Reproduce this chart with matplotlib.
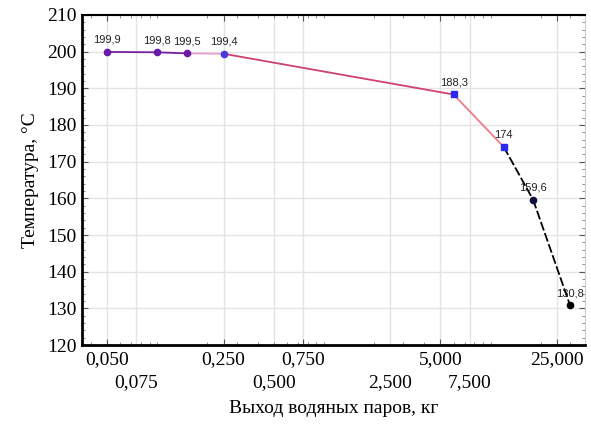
#!/usr/bin/env python3
"""vapour_temperature.py"""

import matplotlib

matplotlib.use("Agg")
import matplotlib.pyplot as plt
from matplotlib.ticker import FixedLocator, LogLocator, MultipleLocator, NullFormatter

# data
vapour_kg = [0.05, 0.1, 0.15, 0.25, 6, 12, 18, 30]
temperature = [199.9, 199.8, 199.5, 199.4, 188.3, 174.0, 159.6, 130.8]
point_labels = ["199,9", "199,8", "199,5", "199,4", "188,3", "174", "159,6", "130,8"]

# x tick labels sit in two staggered rows
upper_ticks = [0.05, 0.25, 0.75, 5, 25]
upper_labels = ["0,050", "0,250", "0,750", "5,000", "25,000"]
lower_ticks = [0.075, 0.5, 2.5, 7.5]
lower_labels = ["0,075", "0,500", "2,500", "7,500"]

seg_colors = ["#7a1fa0", "#7a1fa0", "#e6a0cc", "#d04070", "#f07a86", "black", "black"]
seg_styles = ["-", "-", "-", "-", "-", (0, (5, 1.5)), (0, (5, 1.5))]
marker_colors = ["#6a1aa8", "#6a1aa8", "#6a1aa8", "#4a3ad8", "#2a2af0",
                 "#2a2af0", "#101040", "black"]
marker_shapes = ["o", "o", "o", "o", "s", "s", "o", "o"]

SERIF = "Liberation Serif"


def plot(ax):
    for i in range(len(vapour_kg) - 1):
        ax.plot(vapour_kg[i:i + 2], temperature[i:i + 2], color=seg_colors[i],
                linestyle=seg_styles[i], linewidth=1.3, zorder=2)

    for x, y, c, m, lab in zip(vapour_kg, temperature, marker_colors,
                               marker_shapes, point_labels):
        ax.plot(x, y, marker=m, color=c, markersize=4.5, linestyle="none", zorder=3)
        ax.annotate(lab, (x, y), xytext=(0, 5), textcoords="offset points",
                    ha="center", va="bottom", fontsize=8,
                    family="Liberation Sans", color="#222222")

    ax.set_xscale("log")
    ax.set_xlim(0.0354, 36.9)
    ax.set_ylim(120, 210)

    ax.xaxis.set_major_locator(FixedLocator(upper_ticks))
    ax.set_xticklabels(upper_labels)
    ax.xaxis.set_minor_locator(LogLocator(base=10, subs=range(1, 10)))
    ax.xaxis.set_minor_formatter(NullFormatter())
    ax.yaxis.set_major_locator(MultipleLocator(10))
    ax.yaxis.set_minor_locator(MultipleLocator(2))

    ax.tick_params(which="both", direction="in", top=True, right=True,
                   labelsize=14, pad=4)
    ax.tick_params(which="major", length=4, width=0.8, color="#555555")
    ax.tick_params(which="minor", length=2, width=0.6, color="#777777")
    for lab in ax.get_xticklabels() + ax.get_yticklabels():
        lab.set_family(SERIF)

    # second row of x labels
    sec = ax.secondary_xaxis("bottom")
    sec.set_xticks(lower_ticks)
    sec.set_xticklabels(lower_labels)
    sec.tick_params(length=0, labelsize=14, pad=21)
    sec.xaxis.set_minor_locator(FixedLocator([]))
    sec.spines["bottom"].set_visible(False)
    for lab in sec.get_xticklabels():
        lab.set_family(SERIF)
    sec.set_xlabel("Выход водяных паров, кг", family=SERIF, fontsize=14, labelpad=6)

    # vertical grid at every labelled value
    for v in upper_ticks + lower_ticks:
        ax.axvline(v, color="#e4e4e4", linewidth=1.0, zorder=0)
    ax.grid(True, axis="y", which="major", color="#e4e4e4", linewidth=1.0)
    ax.set_axisbelow(True)

    for side in ["left", "bottom"]:
        ax.spines[side].set_linewidth(2)
    ax.spines["top"].set_linewidth(1.5)
    ax.spines["right"].set_color("#cccccc")

    ax.set_ylabel("Температура, °С", family=SERIF, fontsize=14, labelpad=6)


def main():
    fig = plt.figure(figsize=(5.91, 4.25), dpi=100)
    ax = fig.add_axes([0.139, 0.188, 0.851, 0.777])
    plot(ax)
    fig.savefig("out.png", dpi=100)


if __name__ == "__main__":
    main()
